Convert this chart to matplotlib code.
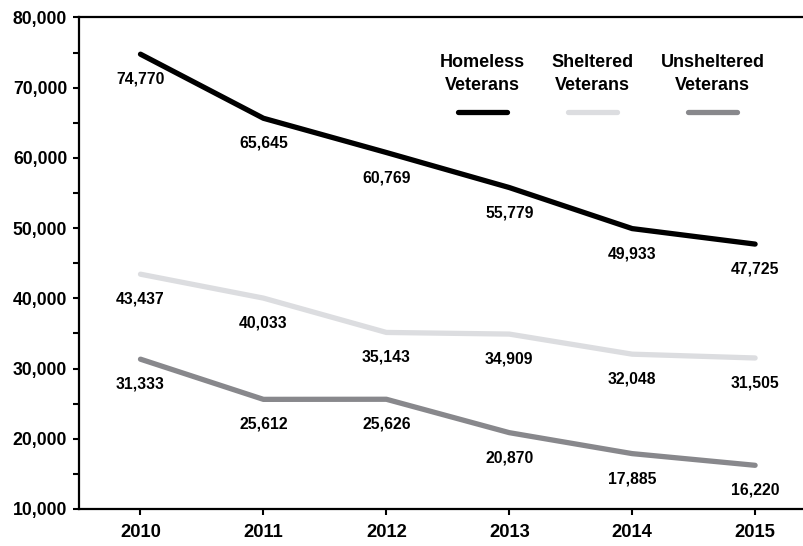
import matplotlib.pyplot as plt
from matplotlib.ticker import MultipleLocator, FuncFormatter

years = [2010, 2011, 2012, 2013, 2014, 2015]
homeless = [74770, 65645, 60769, 55779, 49933, 47725]
sheltered = [43437, 40033, 35143, 34909, 32048, 31505]
unsheltered = [31333, 25612, 25626, 20870, 17885, 16220]
series_names = ['Homeless\nVeterans', 'Sheltered\nVeterans', 'Unsheltered\nVeterans']

colors = ['#000000', '#dcdde0', '#88888c']

plt.rcParams['font.family'] = ['Liberation Sans', 'DejaVu Sans']
plt.rcParams['font.weight'] = 'bold'

fig = plt.figure(figsize=(8.04, 5.46), dpi=100)
ax = fig.add_axes([0.0983, 0.0678, 0.9005, 0.9002])

for vals, c in zip([homeless, sheltered, unsheltered], colors):
    ax.plot(years, vals, color=c, lw=3.8, solid_capstyle='round', solid_joinstyle='round')
    for x, v in zip(years, vals):
        ax.annotate(f'{v:,}', (x, v), xytext=(0, -18), textcoords='offset points',
                    ha='center', va='center', fontsize=11.3, fontweight='bold')

# legend drawn by hand (axes fraction)
leg_x = [0.557, 0.709, 0.875]
for name, c, lx in zip(series_names, colors, leg_x):
    ax.text(lx, 0.885, name, transform=ax.transAxes, ha='center', va='center',
            fontsize=13, fontweight='bold', linespacing=1.5)
    ax.plot([lx - 0.034, lx + 0.034], [0.808, 0.808], transform=ax.transAxes,
            color=c, lw=3.8, solid_capstyle='round')

ax.set_xlim(2009.5, 2015.39)
ax.set_ylim(10000, 80000)
ax.set_xticks(years)
ax.yaxis.set_major_locator(MultipleLocator(10000))
ax.yaxis.set_minor_locator(MultipleLocator(5000))
ax.yaxis.set_major_formatter(FuncFormatter(lambda v, p: f'{int(v):,}'))

ax.spines['right'].set_visible(False)
for s in ['left', 'bottom', 'top']:
    ax.spines[s].set_linewidth(1.6)
ax.tick_params(axis='y', which='both', length=4.5, width=1.5, labelsize=12.7, pad=4)
ax.tick_params(axis='x', length=4.5, width=1.5, labelsize=13.2, pad=6)
for lab in ax.get_xticklabels() + ax.get_yticklabels():
    lab.set_fontweight('bold')

fig.savefig('out.png', dpi=100)
